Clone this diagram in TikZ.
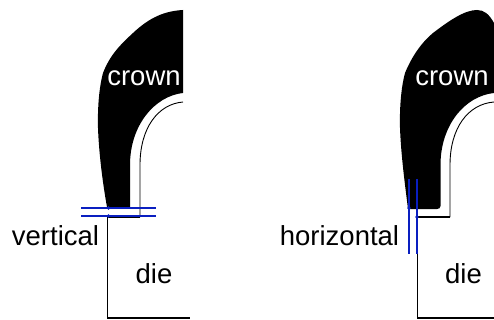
\documentclass[tikz,border=0pt]{standalone}
\usepackage{fontspec}
\setmainfont{Liberation Sans}
\usetikzlibrary{positioning, calc}
\definecolor{cblue}{HTML}{0A1FC0}
\tikzset{
  every picture/.style={x=1pt, y=-1pt},
  lbl/.style={font=\fontsize{27.5}{30}\selectfont, inner sep=0pt, text=#1},
  lbl/.default=black,
  outline/.style={draw=black, line width=1.3pt},
  guide/.style={draw=cblue, line width=1.8pt},
  pin/.style={fill=cblue},
}
\begin{document}
\begin{tikzpicture}
  \useasboundingbox (0,0) rectangle (494,320);
  % left part
  \fill (183,10) .. controls (165,11) and (150,17) .. (133,33)
    .. controls (120,45) and (110,55) .. (103,73)
    .. controls (99,88) and (97.5,108) .. (98,128)
    .. controls (99,155) and (103,185) .. (107,207)
    -- (130,207) -- (130,165)
    .. controls (130,125) and (155,96) .. (183,93) -- cycle;
  \draw[outline, line width=0.9pt] (183,102) .. controls (158,104) and (140,128) .. (140,165) -- (140,217);
  \coordinate (dietopL) at (107.5,217);
  \coordinate (dieinL) at (140,217);
  \coordinate (diebotL) at (107.5,318);
  \coordinate (dieendL) at (190,318);
  \draw[outline] (dieinL) -- (dietopL) -- (diebotL) -- (dieendL);
  \coordinate (a1) at (81,208);
  \coordinate (a2) at (156,208);
  \coordinate (b1) at (81,216);
  \coordinate (b2) at (156,216);
  \draw[guide] (a1) -- (a2);
  \draw[guide] (b1) -- (b2);
  \fill[pin] (108.5,208) circle (1.8);
  \fill[pin] (108.5,216) circle (1.8);
  \node[lbl=white] (crownL) at (144,78) {crown};
  \node[lbl] (vert) at (55.5,236) {vertical};
  \node[lbl] (dieL) at (154,274) {die};
  % right part
  \fill (494,23) .. controls (489,14) and (484,10) .. (477,10)
    .. controls (465,10) and (450,20) .. (433,33)
    .. controls (422,42) and (412,56) .. (405,73)
    .. controls (401,88) and (399.5,108) .. (400,128)
    .. controls (401,155) and (405,185) .. (408,209)
    -- (437,209) .. controls (439,209) and (440.5,208) .. (440.5,206) -- (440.5,165)
    .. controls (440.5,125) and (465,96) .. (494,93) -- cycle;
  \draw[outline, line width=0.9pt] (494,102) .. controls (468,104) and (450,128) .. (450,165) -- (450,217);
  \coordinate (dietopR) at (417.5,217);
  \coordinate (dieinR) at (450,217);
  \coordinate (diebotR) at (417.5,318);
  \coordinate (dieendR) at (494,318);
  \draw[outline] (dieinR) -- (dietopR) -- (diebotR) -- (dieendR);
  \coordinate (c1) at (409,179);
  \coordinate (c2) at (409,254);
  \coordinate (d1) at (417,179);
  \coordinate (d2) at (417,254);
  \draw[guide] (c1) -- (c2);
  \draw[guide] (d1) -- (d2);
  \fill[pin] (409,208) circle (1.8);
  \fill[pin] (417,217) circle (1.8);
  \node[lbl=white] (crownR) at (452,78) {crown};
  \node[lbl] (horiz) at (339.5,236) {horizontal};
  \node[lbl] (dieR) at (463.5,274) {die};
\end{tikzpicture}
\end{document}
